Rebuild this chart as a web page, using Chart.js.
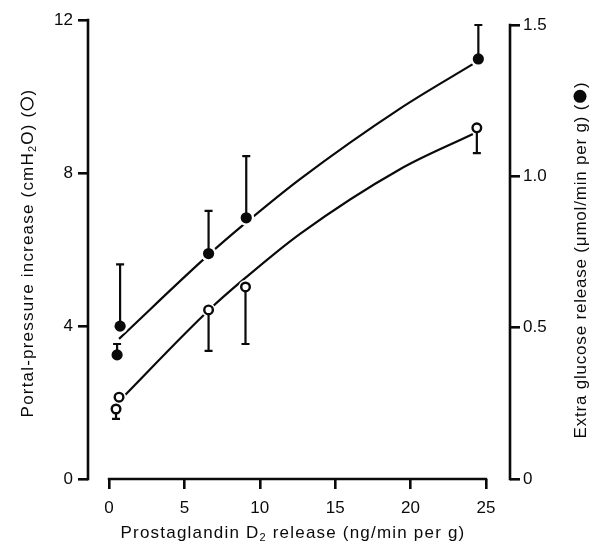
<!DOCTYPE html>
<html><head><meta charset="utf-8">
<script src="https://cdn.jsdelivr.net/npm/chart.js@4/dist/chart.umd.min.js"></script>
<style>html,body{margin:0;padding:0;background:#fff}#wrap{width:596px;height:548px;position:relative}</style>
</head><body><div id="wrap"><canvas id="c" width="596" height="548"></canvas></div>
<script>
// ---- data ----
const xTicks = [0, 5, 10, 15, 20, 25];
const yTicks = [0, 4, 8, 12];
const y2Ticks = [0, 0.5, 1.0, 1.5];

// open circles: portal-pressure increase (left axis, cmH2O)
const openX = [0.46, 0.66, 6.6, 9.05, 24.4];
const openY = [1.83, 2.14, 4.42, 5.02, 9.18];
const openErrLow = [1.57, null, 3.35, 3.53, 8.52];

// filled circles: extra glucose release (right axis)
const filledX = [0.53, 0.73, 6.6, 9.1, 24.5];
const filledY = [0.41, 0.505, 0.745, 0.863, 1.388];
const filledErrHigh = [0.446, 0.709, 0.886, 1.067, 1.50];

// fitted curves
const lowerCurveX = [0.6, 6.63, 9.02, 12.67, 19.3, 24.14];
const lowerCurveY = [2.01, 4.42, 5.25, 6.41, 8.10, 9.02];
const upperCurveX = [0.66, 6.63, 9.08, 12.67, 19.3, 24.27];
const upperCurveY = [0.463, 0.742, 0.847, 0.991, 1.224, 1.375];

const INK = '#0a0a0a';
const FONT = "'Liberation Sans', Arial, Helvetica, sans-serif";
const tickFont = {family: FONT, size: 17};

const pts = (xs, ys) => xs.map((v, i) => ({x: v, y: ys[i]}));

// segments: {t} text, {t, sub} subscript, {sym:'open'|'filled', r} symbol glyph
function drawRich(ctx, segs, cx, cy, rot, size, spacing) {
  ctx.save();
  ctx.translate(cx, cy);
  ctx.rotate(rot);
  ctx.fillStyle = INK; ctx.strokeStyle = INK;
  ctx.textBaseline = 'middle';
  ctx.textAlign = 'left';
  ctx.letterSpacing = spacing + 'px';
  const fs = s => s.sub ? Math.round(size * 0.62) : size;
  let total = 0;
  const widths = segs.map(s => {
    let w;
    if (s.sym) w = 2 * s.r + 2 + spacing;
    else { ctx.font = fs(s) + 'px ' + FONT; w = ctx.measureText(s.t).width; }
    total += w; return w;
  });
  let xx = -total / 2;
  segs.forEach((s, i) => {
    if (s.sym) {
      ctx.beginPath();
      ctx.arc(xx + 1 + s.r, -1, s.r, 0, Math.PI * 2);
      if (s.sym === 'filled') ctx.fill();
      else { ctx.lineWidth = 1.4; ctx.stroke(); }
    } else {
      ctx.font = fs(s) + 'px ' + FONT;
      ctx.fillText(s.t, xx, s.sub ? size * 0.32 : 0);
    }
    xx += widths[i];
  });
  ctx.restore();
}

// datasets are painted from the last index to the first, so:
// 0,1 = markers (top), 2,3 = white halos, 4,5 = curves (bottom)
const deco = {
  id: 'deco',
  afterDatasetDraw(chart, args) {
    if (args.index !== 2) return;
    const {ctx, scales: {x, y, y2}} = chart;
    ctx.save();
    ctx.strokeStyle = INK; ctx.lineWidth = 2.2;
    const bar = (xv, yv, ev, sc) => {
      if (ev == null) return;
      const px = x.getPixelForValue(xv), p0 = sc.getPixelForValue(yv), p1 = sc.getPixelForValue(ev);
      ctx.beginPath();
      ctx.moveTo(px, p0); ctx.lineTo(px, p1);
      ctx.moveTo(px - 4, p1); ctx.lineTo(px + 4, p1);
      ctx.stroke();
    };
    openX.forEach((v, i) => bar(v, openY[i], openErrLow[i], y));
    filledX.forEach((v, i) => bar(v, filledY[i], filledErrHigh[i], y2));
    ctx.restore();
  },
  afterDraw(chart) {
    const {ctx, chartArea: a, scales: {x, y, y2}} = chart;
    ctx.save();
    ctx.strokeStyle = INK; ctx.lineWidth = 2.6; ctx.lineCap = 'square';
    ctx.beginPath();
    ctx.moveTo(a.left, y.getPixelForValue(yTicks[0]));
    ctx.lineTo(a.left, y.getPixelForValue(yTicks[yTicks.length - 1]));
    ctx.moveTo(a.right, y2.getPixelForValue(y2Ticks[0]));
    ctx.lineTo(a.right, y2.getPixelForValue(y2Ticks[y2Ticks.length - 1]));
    ctx.moveTo(x.getPixelForValue(xTicks[0]), a.bottom);
    ctx.lineTo(x.getPixelForValue(xTicks[xTicks.length - 1]), a.bottom);
    ctx.stroke();
    ctx.restore();
    drawRich(ctx, [{t: 'Prostaglandin D'}, {t: '2', sub: true}, {t: ' release (ng/min per g)'}], 293, 533, 0, 17, 1.2);
    drawRich(ctx, [{t: 'Portal-pressure increase (cmH'}, {t: '2', sub: true}, {t: 'O) ('},
                   {sym: 'open', r: 6}, {t: ')'}], 28, 253, -Math.PI / 2, 17, 1.2);
    drawRich(ctx, [{t: 'Extra glucose release (μmol/min per g) ('},
                   {sym: 'filled', r: 6.5}, {t: ')'}], 581, 260, -Math.PI / 2, 17, 0.8);
  }
};

const gridOpt = {display: true, drawOnChartArea: false, drawTicks: true, tickLength: 10, lineWidth: 2.6, color: INK};

new Chart(document.getElementById('c'), {
  data: {
    datasets: [
      {type: 'scatter', data: pts(openX, openY), yAxisID: 'y', pointRadius: 4.3, pointBorderWidth: 2.4,
       pointBackgroundColor: '#fff', pointBorderColor: INK},
      {type: 'scatter', data: pts(filledX, filledY), yAxisID: 'y2', pointRadius: 5.6, pointBorderWidth: 0,
       pointBackgroundColor: INK, pointBorderColor: INK},
      {type: 'scatter', data: pts(openX, openY), yAxisID: 'y', pointRadius: 7, pointBorderWidth: 0,
       pointBackgroundColor: '#fff', pointBorderColor: '#fff'},
      {type: 'scatter', data: pts(filledX, filledY), yAxisID: 'y2', pointRadius: 8, pointBorderWidth: 0,
       pointBackgroundColor: '#fff', pointBorderColor: '#fff'},
      {type: 'line', data: pts(lowerCurveX, lowerCurveY), yAxisID: 'y', borderColor: INK, borderWidth: 2.2,
       pointRadius: 0, cubicInterpolationMode: 'monotone', fill: false},
      {type: 'line', data: pts(upperCurveX, upperCurveY), yAxisID: 'y2', borderColor: INK, borderWidth: 2.2,
       pointRadius: 0, cubicInterpolationMode: 'monotone', fill: false}
    ]
  },
  options: {
    responsive: false, animation: false, devicePixelRatio: 1,
    layout: {padding: {top: 20, left: 0, right: 0, bottom: 0}},
    plugins: {legend: {display: false}, tooltip: {enabled: false}},
    scales: {
      x: {type: 'linear', min: -1.4, max: 26.6,
          afterBuildTicks: s => { s.ticks = xTicks.map(v => ({value: v})); },
          afterFit: s => { s.height = 69; },
          grid: gridOpt, border: {display: false},
          ticks: {font: tickFont, color: INK, padding: 9, maxRotation: 0, autoSkip: false, callback: v => String(v)}},
      y: {type: 'linear', position: 'left', min: 0, max: 12,
          afterBuildTicks: s => { s.ticks = yTicks.map(v => ({value: v})); },
          afterFit: s => { s.width = 88; },
          grid: gridOpt, border: {display: false},
          ticks: {font: tickFont, color: INK, padding: 5, autoSkip: false, callback: v => String(v)}},
      y2: {type: 'linear', position: 'right', min: 0, max: 1.5166,
          afterBuildTicks: s => { s.ticks = y2Ticks.map(v => ({value: v})); },
          afterFit: s => { s.width = 86; },
          grid: gridOpt, border: {display: false},
          ticks: {font: tickFont, color: INK, padding: 3, autoSkip: false, callback: v => v === 0 ? '0' : v.toFixed(1)}}
    }
  },
  plugins: [deco]
});
</script></body></html>
